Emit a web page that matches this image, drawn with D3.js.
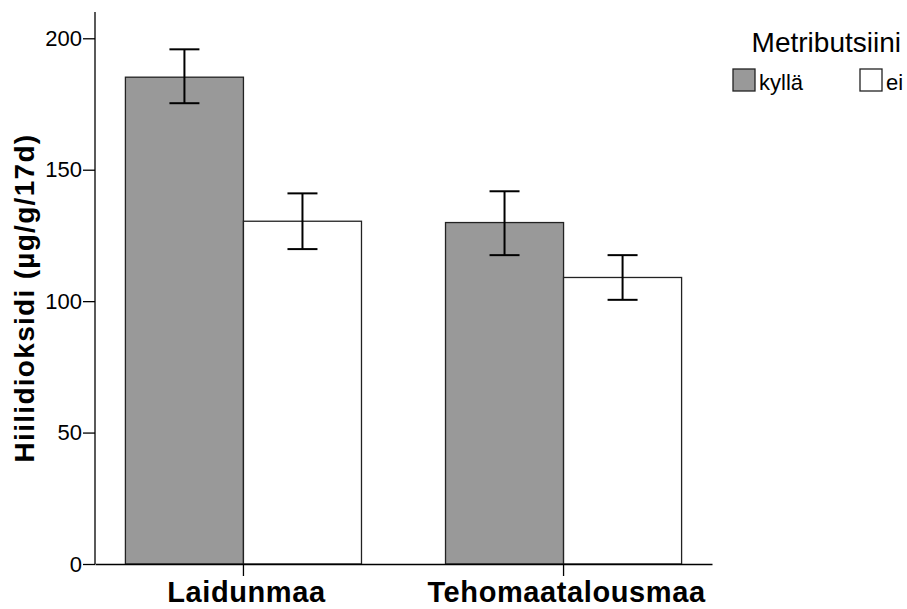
<!DOCTYPE html>
<html>
<head>
<meta charset="utf-8">
<script src="https://cdn.jsdelivr.net/npm/d3@7"></script>
<style>
  body { margin: 0; background: #fff; }
  text { font-family: "Liberation Sans", Arial, sans-serif; }
</style>
</head>
<body>
<script>
// chart data
var categories = ["Laidunmaa", "Tehomaatalousmaa"];
var groups = ["kyllä", "ei"];
var groupColors = ["#999999", "#ffffff"];
var meanValues = [[185.2, 130.4], [129.9, 109.0]];
var errLow = [[175.3, 119.8], [117.5, 100.5]];
var errHigh = [[195.8, 141.0], [141.8, 117.5]];
var yTicks = [0, 50, 100, 150, 200];

var width = 907, height = 609;

var svg = d3.select("body")
    .append("svg")
    .attr("width", width)
    .attr("height", height);

// scales
var y = d3.scaleLinear()
    .domain([0, 210])
    .range([564, 12]);

var x0 = d3.scaleBand()
    .domain(categories)
    .range([95, 712])
    .paddingInner(0.2625)
    .paddingOuter(0.095);

var x1 = d3.scaleBand()
    .domain(groups)
    .range([0, x0.bandwidth()]);

// bars
var cat = svg.selectAll(".cat")
    .data(categories)
    .enter()
    .append("g")
    .attr("class", "cat")
    .attr("transform", function(d){ return "translate(" + x0(d) + ",0)"; });

cat.selectAll("rect")
    .data(function(d, i){
        return groups.map(function(g, j){
            return { g: g, j: j, v: meanValues[i][j] };
        });
    })
    .enter()
    .append("rect")
    .attr("x", function(d){ return x1(d.g); })
    .attr("y", function(d){ return y(d.v); })
    .attr("width", x1.bandwidth())
    .attr("height", function(d){ return y(0) - y(d.v); })
    .attr("fill", function(d){ return groupColors[d.j]; })
    .attr("stroke", "#222")
    .attr("stroke-width", 1.3);

// error bars
var err = cat.selectAll(".err")
    .data(function(d, i){
        return groups.map(function(g, j){
            return { g: g, lo: errLow[i][j], hi: errHigh[i][j] };
        });
    })
    .enter()
    .append("g")
    .attr("class", "err")
    .attr("stroke", "#000")
    .attr("stroke-width", 2);

err.append("line")
    .attr("x1", function(d){ return x1(d.g) + x1.bandwidth() / 2; })
    .attr("x2", function(d){ return x1(d.g) + x1.bandwidth() / 2; })
    .attr("y1", function(d){ return y(d.lo); })
    .attr("y2", function(d){ return y(d.hi); });

err.selectAll(".cap")
    .data(function(d){ return [d.lo, d.hi].map(function(v){ return { g: d.g, v: v }; }); })
    .enter()
    .append("line")
    .attr("x1", function(d){ return x1(d.g) + x1.bandwidth() / 2 - 15; })
    .attr("x2", function(d){ return x1(d.g) + x1.bandwidth() / 2 + 15; })
    .attr("y1", function(d){ return y(d.v); })
    .attr("y2", function(d){ return y(d.v); });

// y axis
var yAxis = svg.append("g")
    .attr("transform", "translate(95,0)")
    .call(d3.axisLeft(y).tickValues(yTicks).tickSize(12).tickPadding(1).tickSizeOuter(0));

yAxis.select(".domain").attr("stroke", "#000").attr("stroke-width", 1.3)
    .attr("d", "M0," + y(210) + "V" + y(0));
yAxis.selectAll(".tick line").attr("stroke", "#000").attr("stroke-width", 1.3);
yAxis.selectAll(".tick text")
    .attr("fill", "#000")
    .style("font-size", "22px");

// x axis
var xAxis = svg.append("g")
    .attr("transform", "translate(0,564)")
    .call(d3.axisBottom(x0).tickSize(12).tickSizeOuter(0).tickPadding(5));

xAxis.select(".domain").attr("stroke", "#000").attr("stroke-width", 1.3);
xAxis.selectAll(".tick line").attr("stroke", "#000").attr("stroke-width", 1.3);
xAxis.selectAll(".tick text")
    .attr("fill", "#000")
    .attr("dx", "3px")
    .style("font-size", "29px")
    .style("font-weight", "bold")
    .style("letter-spacing", "0.6px");

// y axis title
svg.append("text")
    .attr("transform", "translate(34,298) rotate(-90)")
    .attr("text-anchor", "middle")
    .style("font-size", "28px")
    .style("font-weight", "bold")
    .style("letter-spacing", "1.3px")
    .text("Hiilidioksidi (µg/g/17d)");

// legend
svg.append("text")
    .attr("x", 901)
    .attr("y", 52)
    .attr("text-anchor", "end")
    .style("font-size", "28px")
    .text("Metributsiini");

var legendX = [733, 860];
var legend = svg.selectAll(".legend")
    .data(groups)
    .enter()
    .append("g")
    .attr("class", "legend")
    .attr("transform", function(d, i){ return "translate(" + legendX[i] + ",69)"; });

legend.append("rect")
    .attr("width", 22)
    .attr("height", 22)
    .attr("fill", function(d, i){ return groupColors[i]; })
    .attr("stroke", "#222")
    .attr("stroke-width", 1.3);

legend.append("text")
    .attr("x", 26)
    .attr("y", 21)
    .style("font-size", "22px")
    .text(function(d){ return d; });
</script>
</body>
</html>
